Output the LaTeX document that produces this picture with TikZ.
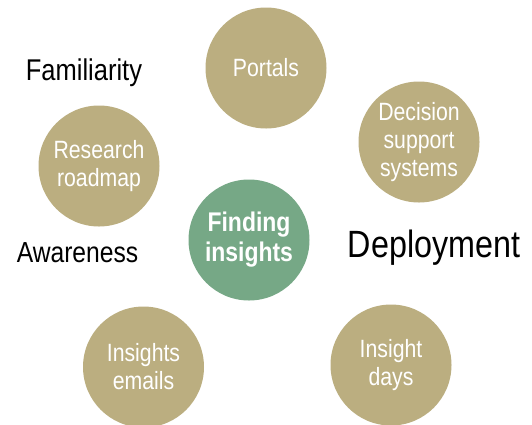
\documentclass[tikz,border=0pt]{standalone}
\usepackage{fontspec}
\setmainfont{Liberation Sans}[FakeStretch=0.85]
\definecolor{tan}{RGB}{187,174,128}
\definecolor{sage}{RGB}{118,168,134}
\begin{document}
\begin{tikzpicture}[x=1pt,y=-1pt,
  bubble/.style={circle,minimum size=121pt,inner sep=0pt,fill=tan,text=white,
    align=center,font=\fontsize{25}{28}\selectfont},
  hub/.style={bubble,fill=sage,font=\bfseries\fontsize{27}{30}\selectfont},
  stage/.style={text=black,inner sep=0pt,anchor=base}]
\useasboundingbox (0,0) rectangle (532,424);
% topic bubbles
\node[bubble] (portals) at (266,68) {Portals};
\node[bubble] (dss) at (419,142) {Decision\\support\\systems};
\node[bubble] (roadmap) at (99,166) {Research\\roadmap};
\node[hub] (finding) at (249,240) {Finding\\insights};
\node[bubble] (emails) at (143.5,367) {Insights\\emails};
\node[bubble] (days) at (391,365) {Insight\\days};
% stage labels
\node[stage,font=\fontsize{30}{34}\selectfont] (familiarity) at (84,80) {Familiarity};
\node[stage,font=\fontsize{29}{33}\selectfont] (awareness) at (77.5,262) {Awareness};
\node[stage,font=\fontsize{38}{42}\selectfont] (deployment) at (434,257) {Deployment};
\end{tikzpicture}
\end{document}
